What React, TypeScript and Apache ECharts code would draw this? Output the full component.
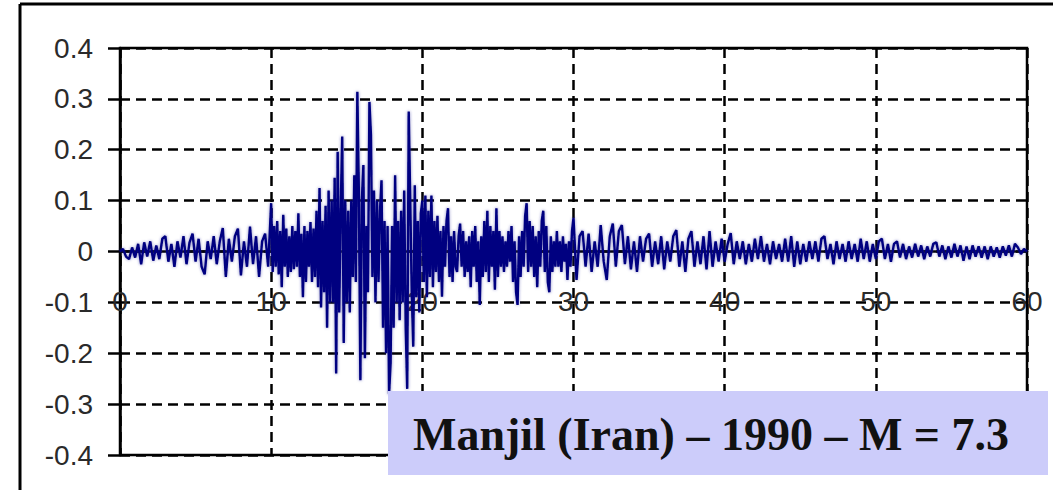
import React, { useEffect, useRef } from "react";
import * as echarts from "echarts";

// Ground acceleration (g), read from the record.
// 0 s .. 9.8 s, one value every 0.2 s
const accel0to10 = [
  0, 0.005, -0.01, -0.015, 0.008, -0.012, 0.015, -0.025, 0.018, -0.01,
  0.02, -0.018, 0.012, -0.015, 0.025, 0.03, -0.02, 0.015, -0.03, 0.02,
  -0.012, 0.03, -0.025, 0.018, 0.035, -0.02, 0.025, -0.03, -0.045, 0.02,
  -0.015, 0.03, -0.025, 0.02, 0.046, -0.05, 0.025, -0.02, 0.03, 0.045,
  -0.047, 0.02, -0.03, 0.049, -0.025, 0.03, -0.05, 0.02, 0.035, -0.03,
];
// 10 s .. 29.9 s, one value every 0.1 s
const accel10to30 = [
  0.095, -0.04, 0.05, -0.03, 0.06, -0.045, 0.04, -0.07, 0.072, -0.03,
  0.045, -0.05, 0.03, -0.04, 0.05, -0.035, 0.04, -0.03, 0.075, -0.05,
  0.035, -0.09, 0.05, -0.06, 0.04, -0.03, 0.058, -0.06, 0.045, -0.05,
  0.08, -0.07, 0.125, -0.11, 0.06, -0.08, 0.09, -0.15, 0.12, -0.1,
  0.1, -0.1, 0.145, -0.24, 0.196, -0.12, 0.08, 0.226, -0.18, 0.1,
  -0.1, 0.08, -0.12, 0.1, -0.05, 0.15, -0.06, 0.314, 0.12, -0.253,
  0.1, 0.17, -0.21, 0.05, -0.08, 0.294, 0.23, -0.05, 0.12, -0.1,
  0.1, -0.06, 0.08, 0.14, -0.15, 0.06, -0.2, 0.05, -0.28, -0.22,
  0.05, -0.15, 0.15, -0.1, 0.06, -0.135, 0.08, -0.1, 0.12, -0.15,
  -0.27, 0.275, 0.1, -0.08, -0.187, 0.13, -0.09, 0.06, -0.12, 0.075,
  0.1, -0.06, 0.11, -0.09, 0.08, -0.05, 0.11, -0.07, 0.06, -0.04,
  0.07, -0.06, 0.04, -0.089, 0.05, -0.03, 0.06, 0.085, -0.05, 0.03,
  -0.06, 0.04, -0.03, -0.04, 0.03, 0.055, -0.03, 0.04, -0.05, 0.02,
  -0.04, 0.03, -0.07, 0.04, -0.03, 0.05, -0.06, 0.02, -0.105, 0.03,
  -0.05, 0.06, -0.04, 0.08, -0.06, 0.05, -0.03, 0.04, -0.075, 0.085,
  -0.05, 0.04, -0.03, 0.03, -0.04, 0.02, -0.03, 0.04, -0.02, 0.05,
  -0.06, 0.02, -0.08, -0.105, 0.03, -0.05, 0.04, -0.03, 0.07, 0.095,
  -0.04, 0.06, -0.03, 0.05, -0.05, 0.03, -0.07, 0.04, -0.03, 0.06,
  0.08, -0.04, 0.05, -0.06, -0.08, 0.03, -0.04, 0.02, -0.03, 0.04,
  -0.03, 0.02, -0.04, 0.03, -0.02, 0.015, -0.056, 0.02, -0.03, 0.04,
];
// 30 s .. 60 s, one value every 0.2 s
const accel30to60 = [
  0.066, -0.056, 0.03, 0.04, -0.03, 0.035, -0.04, 0.02, -0.03, 0.052,
  -0.02, -0.056, 0.03, 0.055, -0.03, 0.04, 0.052, -0.025, 0.03, -0.035,
  0.02, -0.04, 0.03, -0.02, 0.025, 0.035, -0.03, 0.02, -0.025, 0.03,
  -0.035, 0.02, -0.02, 0.03, 0.042, -0.03, 0.02, -0.04, 0.025, 0.04,
  -0.03, 0.02, -0.025, 0.03, -0.035, 0.04, -0.03, 0.02, -0.02, 0.025,
  -0.02, 0.015, 0.036, -0.025, 0.02, -0.015, 0.02, -0.025, 0.015, -0.02,
  0.025, -0.015, 0.03, -0.02, 0.015, -0.025, 0.02, -0.015, 0.015, -0.02,
  0.025, -0.02, 0.03, -0.03, 0.02, -0.025, 0.015, -0.02, 0.02, -0.015,
  0.02, -0.02, 0.025, 0.03, -0.015, 0.015, -0.025, 0.02, -0.015, 0.015,
  -0.02, 0.02, -0.015, 0.015, -0.02, 0.025, -0.015, 0.02, -0.02, 0.015,
  -0.015, 0.02, 0.025, -0.015, 0.015, -0.02, 0.015, 0.02, -0.012, 0.015,
  -0.015, 0.01, -0.012, 0.015, -0.01, 0.012, -0.015, 0.01, -0.01, 0.015,
  0.018, -0.01, 0.012, -0.015, 0.01, -0.012, 0.015, -0.01, 0.012, -0.018,
  0.01, -0.015, 0.012, -0.01, 0.01, -0.012, 0.01, -0.015, 0.01, -0.01,
  0.008, -0.012, 0.01, -0.008, 0.012, -0.01, 0.015, 0.008, -0.005, 0.005,
  0,
];

const segments = [
  { start: 0, step: 0.2, values: accel0to10 },
  { start: 10, step: 0.1, values: accel10to30 },
  { start: 30, step: 0.2, values: accel30to60 },
];

const xTickValues = [0, 10, 20, 30, 40, 50, 60];
const yTickValues = [-0.4, -0.3, -0.2, -0.1, 0, 0.1, 0.2, 0.3, 0.4];
const yTickLabels = ["-0.4", "-0.3", "-0.2", "-0.1", "0", "0.1", "0.2", "0.3", "0.4"];
const TITLE = "Manjil (Iran) \u2013 1990 \u2013 M = 7.3";

function buildPoints(): [number, number][] {
  const pts: [number, number][] = [];
  segments.forEach((s) => {
    s.values.forEach((v, i) => {
      pts.push([Math.round((s.start + i * s.step) * 100) / 100, v]);
    });
  });
  return pts;
}

const LABEL_FONT = '"Liberation Sans", Arial, sans-serif';
const GRID_TOP = 48;
const GRID_BOTTOM = 35;
const CHART_H = 490;

export default function App() {
  const ref = useRef<HTMLDivElement>(null);
  useEffect(() => {
    if (!ref.current) return;
    const chart = echarts.init(ref.current, null, { renderer: "svg" });
    const yMin = yTickValues[0];
    const yMax = yTickValues[yTickValues.length - 1];
    const plotH = CHART_H - GRID_TOP - GRID_BOTTOM;
    // move the x axis from the bottom edge up to the zero line
    const zeroOffset = -plotH * ((0 - yMin) / (yMax - yMin));
    const option: any = {
      animation: false,
      backgroundColor: "#ffffff",
      grid: {
        left: 120,
        top: GRID_TOP,
        right: 36,
        bottom: GRID_BOTTOM,
        show: true,
        borderColor: "#000",
        borderWidth: 2.5,
        containLabel: false,
        outerBoundsMode: "none",
      },
      xAxis: {
        type: "value",
        position: "bottom",
        offset: zeroOffset,
        min: xTickValues[0],
        max: xTickValues[xTickValues.length - 1],
        interval: 10,
        axisLine: { show: true, onZero: false, lineStyle: { color: "#000", width: 2.5 } },
        axisTick: { show: false },
        axisLabel: {
          margin: 36,
          fontSize: 28,
          fontFamily: LABEL_FONT,
          color: "#2a2a2a",
          showMinLabel: true,
          showMaxLabel: true,
          formatter: (v: number) => String(Math.round(v)),
        },
        splitLine: { show: true, lineStyle: { color: "#000", width: 2.5, type: [10, 6] } },
      },
      yAxis: {
        type: "value",
        min: yMin,
        max: yMax,
        interval: 0.1,
        axisLine: { show: true, onZero: false, lineStyle: { color: "#000", width: 2.5 } },
        axisTick: { show: true, length: 12, lineStyle: { color: "#000", width: 2.5 } },
        axisLabel: {
          margin: 27,
          fontSize: 28,
          fontFamily: LABEL_FONT,
          color: "#2a2a2a",
          padding: [6, 0, 0, 0],
          formatter: (v: number) => {
            let best = 0;
            yTickValues.forEach((t, i) => {
              if (Math.abs(t - v) < Math.abs(yTickValues[best] - v)) best = i;
            });
            return yTickLabels[best];
          },
        },
        splitLine: { show: true, lineStyle: { color: "#000", width: 2.5, type: [10, 6] } },
      },
      series: [
        {
          type: "line",
          data: buildPoints(),
          showSymbol: false,
          symbol: "none",
          silent: true,
          z: 3,
          lineStyle: {
            color: "#000080",
            width: 2.4,
            shadowColor: "rgba(40,40,150,0.55)",
            shadowBlur: 3,
          },
        },
      ],
      graphic: [
        {
          type: "line",
          shape: { x1: 20, y1: 4, x2: 1053, y2: 4 },
          style: { stroke: "#000", lineWidth: 3 },
          z: 50,
        },
        {
          type: "line",
          shape: { x1: 20, y1: 4, x2: 20, y2: 490 },
          style: { stroke: "#000", lineWidth: 3 },
          z: 50,
        },
        {
          type: "rect",
          shape: { x: 388, y: 391, width: 660, height: 84 },
          style: { fill: "#ccccfa" },
          z: 100,
        },
        {
          type: "text",
          x: 711,
          y: 434,
          z: 101,
          style: {
            text: TITLE,
            font: 'bold 46px "Liberation Serif", "Times New Roman", serif',
            fill: "#111",
            align: "center",
            verticalAlign: "middle",
            textAlign: "center",
            textVerticalAlign: "middle",
          },
        },
      ],
    };
    chart.setOption(option);
    return () => chart.dispose();
  }, []);
  return (
    <div
      ref={ref}
      style={{ position: "fixed", left: 0, top: 0, width: 1063, height: 490, background: "#fff" }}
    />
  );
}
